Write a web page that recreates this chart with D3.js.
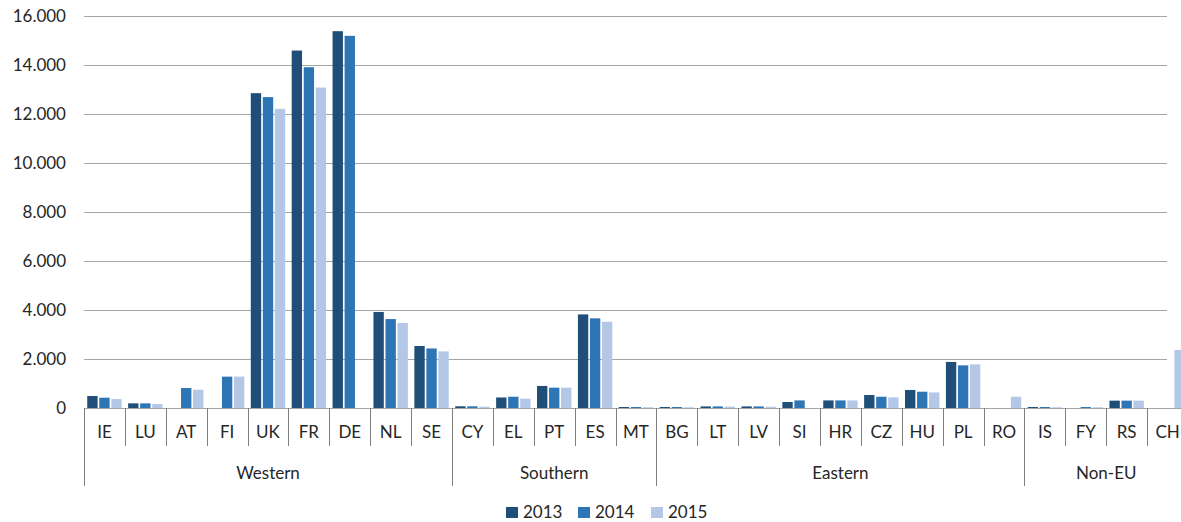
<!DOCTYPE html>
<html>
<head>
<meta charset="utf-8">
<script src="https://cdn.jsdelivr.net/npm/d3@7"></script>
<style>
  html, body { margin: 0; padding: 0; background: #fff; }
  svg { display: block; font-family: Lato, "Open Sans", sans-serif; }
</style>
</head>
<body>
<svg id="chart" width="1181" height="522"></svg>
<script>
// Country codes, in drawing order
const countries = ["IE","LU","AT","FI","UK","FR","DE","NL","SE",
                   "CY","EL","PT","ES","MT",
                   "BG","LT","LV","SI","HR","CZ","HU","PL","RO",
                   "IS","FY","RS","CH"];
// Regional groups and how many countries each spans
const groups = ["Western","Southern","Eastern","Non-EU"];
const groupSizes = [9, 5, 9, 4];
const years = ["2013","2014","2015"];
const yTicks = [0,2000,4000,6000,8000,10000,12000,14000,16000];

// Values per year (0 = no bar)
const v2013 = [490,190,0,0,12850,14590,15380,3920,2530,
               70,430,900,3820,40,
               40,65,65,245,310,530,735,1880,0,
               40,0,300,0];
const v2014 = [420,190,815,1280,12690,13910,15190,3630,2430,
               70,460,830,3660,40,
               40,65,65,310,310,460,665,1740,0,
               40,40,300,0];
const v2015 = [365,160,745,1280,12210,13080,0,3470,2310,
               50,380,830,3520,30,
               30,55,50,0,310,435,635,1780,460,
               30,30,300,2370];
const colors = ["#1f4e79","#2e75b6","#b4c7e7"];

const series = [v2013, v2014, v2015];
const svg = d3.select("#chart");

const plotLeft = 84, plotRight = 1188, plotTop = 16, plotBase = 408;
const gridRight = 1167;

const x = d3.scaleBand().domain(countries).range([plotLeft, plotRight]).paddingInner(0).paddingOuter(0);
const xi = d3.scaleBand().domain(years).range([0, x.bandwidth()])
  .paddingInner(0.14).paddingOuter(0.27);
const y = d3.scaleLinear().domain([0, 16000]).range([plotBase, plotTop]);

const fmt = v => d3.format(",")(v).replace(/,/g, ".");

// Gridlines and y labels
const yAxis = d3.axisLeft(y).tickValues(yTicks).tickFormat(fmt).tickSize(0).tickPadding(18);
const ga = svg.append("g").attr("transform", `translate(${plotLeft},0)`).call(yAxis);
ga.select(".domain").remove();
ga.selectAll("text").attr("font-size", 17).attr("fill", "#262626")
  .attr("font-family", "Lato, 'Open Sans', sans-serif");

svg.append("g").selectAll("line").data(yTicks.filter(d => d > 0)).join("line")
  .attr("x1", plotLeft).attr("x2", gridRight)
  .attr("y1", d => Math.round(y(d)) + 0.5).attr("y2", d => Math.round(y(d)) + 0.5)
  .attr("stroke", "#a6a6a6").attr("stroke-width", 1);

// Bars
const rows = countries.map((c, i) => ({ c, vals: series.map(s => s[i]) }));
svg.append("g").selectAll("g").data(rows).join("g")
  .attr("transform", d => `translate(${x(d.c)},0)`)
  .selectAll("rect")
  .data(d => d.vals.map((v, k) => ({ v, k })).filter(e => e.v > 0))
  .join("rect")
  .attr("x", e => xi(years[e.k]))
  .attr("width", xi.bandwidth())
  .attr("y", e => y(e.v))
  .attr("height", e => plotBase - y(e.v))
  .attr("fill", e => colors[e.k]);

// Baseline
svg.append("line").attr("x1", plotLeft).attr("x2", plotRight)
  .attr("y1", plotBase + 0.5).attr("y2", plotBase + 0.5)
  .attr("stroke", "#a6a6a6");

// Category axis: country labels with separators
const catTickBottom = 446, groupTickBottom = 486;
const gx = svg.append("g");
gx.selectAll("text.cat").data(countries).join("text")
  .attr("class", "cat")
  .attr("x", d => x(d) + x.bandwidth() / 2)
  .attr("y", 438)
  .attr("text-anchor", "middle")
  .attr("font-size", 17).attr("fill", "#262626")
  .text(d => d);

// Group boundaries
const starts = [];
let acc = 0;
groupSizes.forEach(n => { starts.push(acc); acc += n; });
const groupEdges = new Set(starts.concat([acc]));

gx.selectAll("line.cat").data(d3.range(countries.length + 1)).join("line")
  .attr("class", "cat")
  .attr("x1", i => Math.round(plotLeft + i * x.step()) + 0.5)
  .attr("x2", i => Math.round(plotLeft + i * x.step()) + 0.5)
  .attr("y1", plotBase)
  .attr("y2", i => groupEdges.has(i) ? groupTickBottom : catTickBottom)
  .attr("stroke", "#7f7f7f");

gx.selectAll("text.grp").data(groups).join("text")
  .attr("class", "grp")
  .attr("x", (g, i) => plotLeft + (starts[i] + groupSizes[i] / 2) * x.step())
  .attr("y", 479)
  .attr("text-anchor", "middle")
  .attr("font-size", 17).attr("fill", "#262626")
  .text(g => g);

// Legend
const legendX = [506, 578, 651];
const lg = svg.append("g");
years.forEach((yr, k) => {
  lg.append("rect").attr("x", legendX[k]).attr("y", 507).attr("width", 12).attr("height", 11)
    .attr("fill", colors[k]);
  lg.append("text").attr("x", legendX[k] + 17).attr("y", 518)
    .attr("font-size", 17).attr("fill", "#262626").text(yr);
});
</script>
</body>
</html>
